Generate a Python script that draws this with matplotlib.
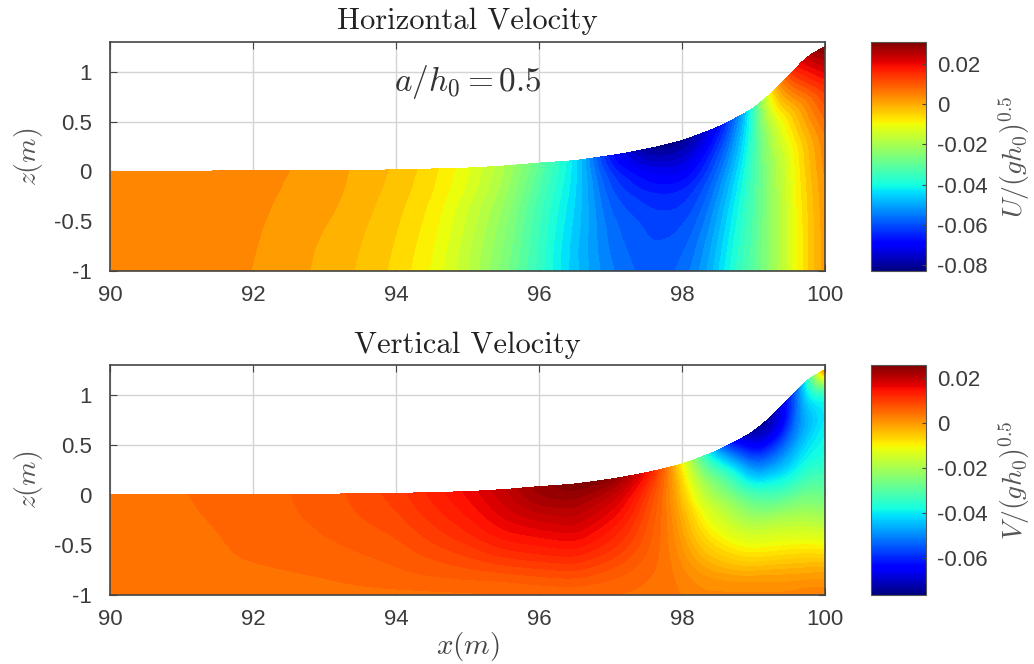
import numpy as np
import matplotlib
matplotlib.use('Agg')
import matplotlib.pyplot as plt
from matplotlib.cm import ScalarMappable
from matplotlib.colors import Normalize

plt.rcParams['font.family'] = ['Liberation Sans', 'DejaVu Sans']
plt.rcParams['mathtext.fontset'] = 'cm'
plt.rcParams['axes.unicode_minus'] = False

# free surface
eta_x = [90, 91, 92, 93, 94, 95, 95.5, 96, 96.5, 97, 97.25, 97.5, 97.75, 98, 98.25,
         98.5, 98.75, 99, 99.25, 99.5, 99.75, 100]
eta_z = [0, 0, 0.002, 0.005, 0.012, 0.03, 0.05, 0.08, 0.105, 0.155, 0.185, 0.22, 0.26, 0.306, 0.37,
         0.44, 0.53, 0.63, 0.78, 0.96, 1.15, 1.25]

# horizontal velocity: columns along x, rows bed (0) to surface (1)
u_x = [90, 91, 92, 92.5, 93, 93.5, 94, 94.5, 95, 95.5, 96, 96.5, 97, 97.5, 97.75, 98,
       98.25, 98.5, 98.75, 99, 99.25, 99.5, 99.75, 100]
u_s = [0, 0.2, 0.4, 0.6, 0.8, 1]
u_vals = [
    [.0035, .0035, .0035, .0035, .0035, .0035],
    [.0035, .0035, .0035, .0035, .0035, .0035],
    [.0032, .0033, .0034, .0035, .0035, .0035],
    [.0018, .002, .0023, .0027, .003, .0032],
    [-.0003, 0, .0005, .0012, .0018, .0022],
    [-.0023, -.002, -.0016, -.001, -.0005, -.0002],
    [-.0052, -.0048, -.0043, -.0037, -.003, -.0024],
    [-.0098, -.0092, -.0085, -.0077, -.0067, -.006],
    [-.017, -.0165, -.0155, -.0145, -.0125, -.0115],
    [-.026, -.025, -.024, -.0225, -.0205, -.019],
    [-.036, -.0355, -.035, -.034, -.032, -.03],
    [-.047, -.047, -.046, -.045, -.044, -.043],
    [-.055, -.056, -.057, -.059, -.062, -.068],
    [-.059, -.060, -.061, -.064, -.070, -.081],
    [-.059, -.060, -.0615, -.065, -.072, -.083],
    [-.057, -.059, -.0615, -.065, -.073, -.082],
    [-.053, -.055, -.058, -.062, -.069, -.078],
    [-.046, -.048, -.051, -.055, -.061, -.069],
    [-.037, -.039, -.041, -.045, -.051, -.058],
    [-.031, -.032, -.033, -.034, -.036, -.038],
    [-.023, -.023, -.023, -.022, -.018, -.006],
    [-.014, -.014, -.0135, -.013, -.006, .012],
    [-.005, -.005, -.004, -.002, .006, .025],
    [.002, .002, .003, .005, .013, .031],
]

# vertical velocity
v_x = eta_x
v_s = [0, 0.1, 0.2, 0.4, 0.6, 0.8, 0.9, 1]
v_vals = [
    [.004, .004, .004, .004, .004, .004, .004, .004],
    [.004, .004, .004, .004, .0041, .0044, .0045, .0046],
    [.004, .0041, .0043, .0049, .0052, .0054, .0055, .0055],
    [.0041, .0044, .0048, .0055, .0062, .0066, .0067, .0068],
    [.0042, .005, .0058, .0067, .0078, .0089, .0094, .0098],
    [.0044, .0055, .0068, .0095, .012, .014, .0148, .0155],
    [.0047, .0056, .0074, .0115, .015, .0175, .0185, .0195],
    [.0048, .0062, .0082, .0126, .0164, .0207, .0226, .0235],
    [.005, .0066, .0088, .0135, .0178, .0216, .0236, .0255],
    [.0047, .0057, .0072, .011, .0143, .0182, .0211, .0245],
    [.0045, .0052, .0062, .009, .0118, .0152, .0176, .021],
    [.0042, .0046, .0051, .0065, .0078, .0097, .0121, .015],
    [.004, .004, .0042, .0042, .0042, .0045, .0052, .006],
    [.0032, .0027, .002, .000, -.002, -.005, -.007, -.010],
    [.002, .001, -.001, -.006, -.011, -.019, -.024, -.030],
    [.002, .0005, -.003, -.010, -.017, -.027, -.036, -.048],
    [.002, -.0003, -.005, -.014, -.023, -.038, -.051, -.066],
    [.002, -.0005, -.006, -.017, -.031, -.054, -.066, -.0755],
    [.002, -.0005, -.0065, -.018, -.036, -.058, -.070, -.075],
    [.002, -.001, -.007, -.020, -.040, -.055, -.064, -.062],
    [.003, -.001, -.008, -.022, -.037, -.046, -.040, -.042],
    [.003, -.001, -.009, -.025, -.037, -.041, -.038, .002],
]

u_range = (-.083, .031)
v_range = (-.0767, .0258)
u_ticks = [-.08, -.06, -.04, -.02, 0, .02]
v_ticks = [-.06, -.04, -.02, 0, .02]
x_ticks = [90, 92, 94, 96, 98, 100]
z_ticks = [-1, -0.5, 0, 0.5, 1]

W, H = 1034, 664
TXT = '#3c3c3c'


def rect(left, top, right, bottom):
    return [left / W, 1 - bottom / H, (right - left) / W, (bottom - top) / H]


def soften(a, n):
    # running mean, odd mirror at the ends so edge values stay put
    pad = np.concatenate([2 * a[0] - a[n:0:-1], a, 2 * a[-1] - a[-2:-n - 2:-1]])
    return np.convolve(pad, np.ones(2 * n + 1) / (2 * n + 1), mode='valid')


xf = np.linspace(90, 100, 501)
sf = np.linspace(0, 1, 121)
etaf = soften(np.interp(xf, eta_x, eta_z), 5)


def resample(xs, ss, vals):
    vals = np.array(vals)
    a = np.array([np.interp(sf, ss, col) for col in vals])
    a = np.array([np.interp(xf, xs, row) for row in a.T]).T
    a = np.array([soften(row, 9) for row in a.T]).T
    a = np.array([soften(col, 5) for col in a])
    return a


def panel(ax, cax, xs, ss, vals, vrange, nlev, ticks, title, clabel, xlabel=False):
    field = resample(xs, ss, vals)
    xg, sg = np.meshgrid(xf, sf, indexing='ij')
    zg = -1 + sg * (1 + etaf[:, None])
    norm = Normalize(*vrange)
    levels = np.linspace(vrange[0], vrange[1], nlev)
    cs = ax.contourf(xg, zg, field, levels=levels, cmap='jet', norm=norm, extend='both', zorder=2)
    cs.set_edgecolor('face')
    cs.set_linewidth(0.5)
    ax.set_xlim(90, 100)
    ax.set_ylim(-1, 1.3)
    ax.set_xticks(x_ticks)
    ax.set_yticks(z_ticks)
    ax.set_yticklabels(['-1', '-0.5', '0', '0.5', '1'])
    ax.grid(True, color='#d4d4d4', lw=1)
    ax.set_axisbelow(True)
    ax.tick_params(direction='in', top=True, right=True, length=5, width=0.8, color='#444444',
                   labelsize=16, labelcolor=TXT)
    ax.tick_params(axis='x', pad=10)
    ax.tick_params(axis='y', pad=13)
    for sp in ax.spines.values():
        sp.set_color('#444444')
        sp.set_linewidth(1.2)
        sp.set_zorder(5)
    ax.set_title(title, family='cmr10', fontsize=22, color='#222222', pad=9)
    ax.set_ylabel(r'$z(m)$', fontsize=20, color='#555555', labelpad=6)
    if xlabel:
        ax.set_xlabel(r'$x(m)$', fontsize=21, color='#444444', labelpad=0)
    cb = ax.figure.colorbar(ScalarMappable(norm=norm, cmap='jet'), cax=cax, ticks=ticks)
    cb.ax.set_yticklabels(['%g' % t for t in ticks])
    cb.ax.tick_params(direction='in', length=3, width=0.8, color='#444444', labelsize=16,
                      labelcolor=TXT, pad=8)
    cb.outline.set_edgecolor('#555555')
    cb.set_label(clabel, fontsize=20, color='#555555', labelpad=6)


fig = plt.figure(figsize=(W / 100, H / 100), dpi=100)
ax1 = fig.add_axes(rect(110, 42, 825, 271))
cax1 = fig.add_axes(rect(871, 42, 926, 271))
ax2 = fig.add_axes(rect(110, 365, 825, 595))
cax2 = fig.add_axes(rect(871, 365, 926, 595))

panel(ax1, cax1, u_x, u_s, u_vals, u_range, 46, u_ticks, 'Horizontal Velocity', r'$U/(gh_0)^{0.5}$')
panel(ax2, cax2, v_x, v_s, v_vals, v_range, 69, v_ticks, 'Vertical Velocity', r'$V/(gh_0)^{0.5}$',
      xlabel=True)
ax1.text(95.0, 0.9, r'$a/h_0 = 0.5$', fontsize=24, color='#333333', ha='center', va='center', zorder=6)

fig.savefig('out.png', dpi=100)
